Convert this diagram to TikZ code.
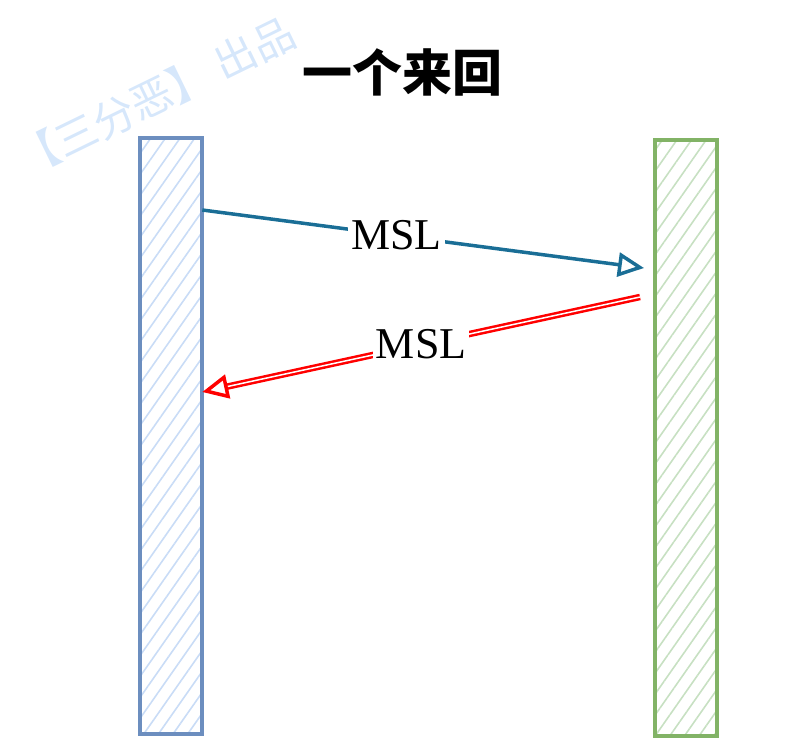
\documentclass[tikz,border=0pt]{standalone}
\usepackage{fontspec}
\setmainfont{Liberation Serif}
\newfontfamily\cjk{Noto Sans CJK SC}
\usetikzlibrary{arrows.meta,patterns.meta}

\definecolor{barblue}{HTML}{6C8EBF}
\definecolor{hatchblue}{HTML}{C9DCF6}
\definecolor{bargreen}{HTML}{82B366}
\definecolor{hatchgreen}{HTML}{C7E0C2}
\definecolor{reqblue}{HTML}{1A6E96}
\definecolor{markblue}{HTML}{D6E7FB}

\tikzset{
  bar/.style={draw, line width=4pt, minimum width=62pt, minimum height=596pt, inner sep=0pt},
  clientbar/.style={bar, draw=barblue, pattern={Lines[angle=55, distance=12pt, line width=1.6pt]}, pattern color=hatchblue},
  serverbar/.style={bar, draw=bargreen, pattern={Lines[angle=55, distance=12pt, line width=1.6pt]}, pattern color=hatchgreen},
  msg/.style={line width=3.5pt, -{Triangle[open, length=26pt, width=24pt, line width=3.5pt]}},
  msglabel/.style={fill=white, text=black, inner sep=3pt, font=\fontsize{44}{48}\selectfont}
}

\begin{document}
\begin{tikzpicture}[x=1pt, y=-1pt]
  \useasboundingbox (0,0) rectangle (805,751);

  % watermark
  \node[markblue, rotate=26, font=\cjk\fontsize{42}{46}\selectfont] (mark) at (156,96) {【三分恶】 出品};

  % title
  \node[font=\cjk\bfseries\fontsize{50}{54}\selectfont] (title) at (402,72) {一个来回};

  % the two ends
  \node[clientbar] (client) at (170.5,436) {};
  \node[serverbar] (server) at (686,438) {};

  % arrow ends
  \coordinate (req-from) at (client.east |- 0,210);
  \coordinate (req-to) at ([xshift=-9pt]server.west |- 0,268);
  \coordinate (ack-from) at ([xshift=-13pt]server.west |- 0,297);
  \coordinate (ack-to) at (client.east |- 0,392);

  % MSL there
  \draw[msg, reqblue] (req-from) -- (req-to) node[msglabel, pos=0.44] (msl-go) {MSL};

  % MSL back
  \draw[msg, red, double=white, double distance=1.5pt, line width=2.5pt] (ack-from) -- (ack-to) node[msglabel, midway] (msl-back) {MSL};
\end{tikzpicture}
\end{document}
